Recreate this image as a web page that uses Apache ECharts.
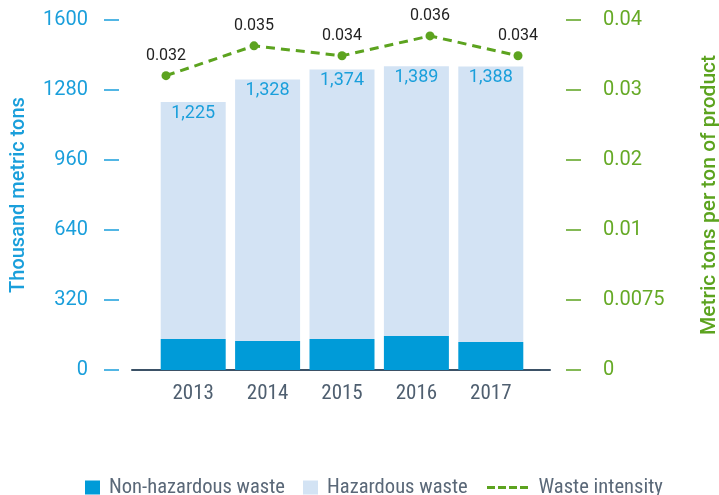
<!DOCTYPE html>
<html>
<head>
<meta charset="utf-8">
<script src="https://cdn.jsdelivr.net/npm/echarts@6/dist/echarts.min.js"></script>
<style>
html,body{margin:0;padding:0;background:#fff;}
#chart{width:719px;height:495px;}
</style>
</head>
<body>
<div id="chart"></div>
<script>
// ---- data ----
var years = ['2013', '2014', '2015', '2016', '2017'];
var totalWaste = [1225, 1328, 1374, 1389, 1388];          // thousand metric tons (labels)
var nonHazardous = [142, 133, 142, 155, 128];             // thousand metric tons
var intensity = [0.032, 0.035, 0.034, 0.036, 0.034];      // metric tons per ton of product
var leftTicks = [0, 320, 640, 960, 1280, 1600];
var rightTickLabels = ['0', '0.0075', '0.01', '0.02', '0.03', '0.04'];

var hazardous = totalWaste.map(function (t, i) { return t - nonHazardous[i]; });

var BLUE = '#009bd8', LIGHT = '#d3e3f4', TXTBLUE = '#1a9fdb', GREEN = '#5ca31f', GRAY = '#4f5f70';
var COND = "'Roboto Condensed', 'Liberation Sans Narrow', 'Roboto', sans-serif";

var chart = echarts.init(document.getElementById('chart'), null, {renderer: 'canvas'});
chart.setOption({
  animation: false,
  textStyle: {fontFamily: 'Roboto, sans-serif'},
  grid: [
    {left: 156, right: 191, top: 20, bottom: 125, outerBoundsMode: 'none', containLabel: false},
    {left: 132, right: 169, top: 20, bottom: 125, outerBoundsMode: 'none', containLabel: false},
    {left: 166, right: 201, top: 20, bottom: 125, outerBoundsMode: 'none', containLabel: false}
  ],
  legend: [
    {
      data: ['Non-hazardous waste', 'Hazardous waste'],
      left: 80, top: 472, itemWidth: 15, itemHeight: 14, itemGap: 18,
      icon: 'rect',
      textStyle: {fontFamily: COND, fontSize: 20.6, color: '#5a6878', padding: [0, 0, 0, 4]}
    },
    {
      data: [{name: 'Waste intensity', icon: 'path://M0,0h8v3h-8zM11,0h8v3h-8zM22,0h8v3h-8zM33,0h8v3h-8z'}],
      left: 482, top: 472, itemWidth: 42, itemHeight: 3,
      textStyle: {fontFamily: COND, fontSize: 20.6, color: '#5a6878', padding: [0, 0, 0, 5]}
    }
  ],
  xAxis: [
    {
      type: 'category', gridIndex: 0, data: years,
      axisLine: {show: false}, axisTick: {show: false},
      axisLabel: {fontFamily: COND, fontSize: 21, color: GRAY, margin: 13}
    },
    {
      type: 'category', gridIndex: 1, data: years,
      axisLine: {show: true, lineStyle: {color: '#3b5166', width: 2}},
      axisTick: {show: false}, axisLabel: {show: false}
    },
    {
      type: 'category', gridIndex: 2, data: years, boundaryGap: false, show: false
    }
  ],
  yAxis: [
    {
      type: 'value', gridIndex: 0, position: 'left', offset: 37,
      min: leftTicks[0], max: leftTicks[leftTicks.length - 1], interval: leftTicks[1] - leftTicks[0],
      splitLine: {show: false}, axisLine: {show: false},
      axisTick: {show: true, length: 15, lineStyle: {color: TXTBLUE, width: 1.5}},
      axisLabel: {fontSize: 20, color: TXTBLUE, margin: 31,
        formatter: function (v) { return String(v); }},
      name: 'Thousand metric tons', nameLocation: 'middle', nameRotate: 90, nameGap: 90,
      nameTextStyle: {fontSize: 20, fontWeight: 500, color: TXTBLUE}
    },
    {
      type: 'value', gridIndex: 0, position: 'right', offset: 38,
      min: 0, max: rightTickLabels.length - 1, interval: 1,
      splitLine: {show: false}, axisLine: {show: false},
      axisTick: {show: true, length: 15, lineStyle: {color: GREEN, width: 1.5}},
      axisLabel: {fontSize: 20, color: '#66aa26', margin: 37, align: 'left',
        formatter: function (v) { return rightTickLabels[Math.round(v)]; }},
      name: 'Metric tons per ton of product', nameLocation: 'middle', nameRotate: 90, nameGap: 133,
      nameTextStyle: {fontSize: 21, fontWeight: 500, color: GREEN}
    },
    {
      type: 'value', gridIndex: 1, show: false, min: 0, max: 1
    },
    {
      type: 'value', gridIndex: 2, show: false, min: 0.0024, max: 0.0376
    }
  ],
  series: [
    {
      name: 'Non-hazardous waste', type: 'bar', stack: 'w', xAxisIndex: 0, yAxisIndex: 0,
      data: nonHazardous, barWidth: 65, itemStyle: {color: BLUE}
    },
    {
      name: 'Hazardous waste', type: 'bar', stack: 'w', xAxisIndex: 0, yAxisIndex: 0,
      data: hazardous, barWidth: 65, itemStyle: {color: LIGHT},
      label: {
        show: true, position: 'insideTop', distance: 2, fontSize: 18, color: TXTBLUE,
        formatter: function (p) { return totalWaste[p.dataIndex].toLocaleString('en-US'); }
      }
    },
    {
      name: 'Waste intensity', type: 'line', xAxisIndex: 2, yAxisIndex: 3,
      data: intensity, symbol: 'circle', symbolSize: 9,
      itemStyle: {color: GREEN},
      lineStyle: {color: GREEN, width: 3, type: [9, 6]},
      label: {show: true, position: 'top', distance: 7, fontSize: 16, color: '#222',
        formatter: function (p) { return p.value.toFixed(3); }},
      z: 5
    }
  ]
});
</script>
</body>
</html>
